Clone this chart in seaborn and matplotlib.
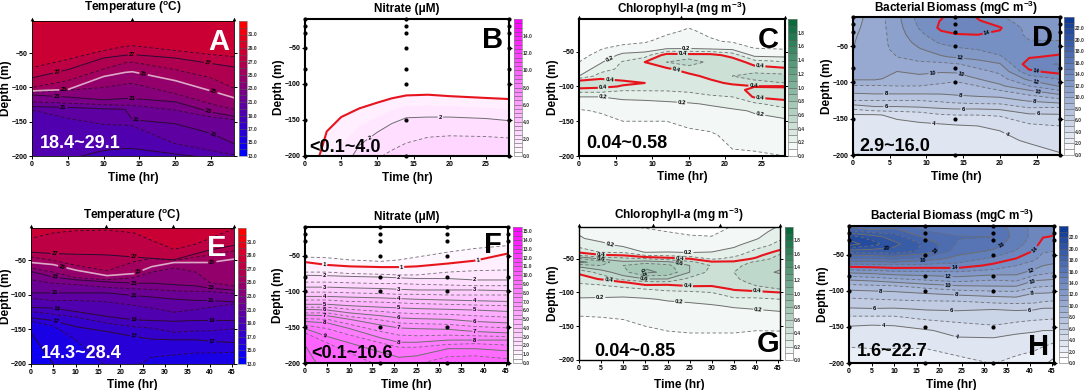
import numpy as np
import pandas as pd
import matplotlib
matplotlib.use('Agg')
import matplotlib.pyplot as plt
import seaborn as sns

W, H = 1084, 390

# ---------- temperature, cruise 1: depth of each isotherm at each time
a_times = [0, 5, 10, 13, 14, 20, 25, 28.2]
a_levels = [29.1, 28, 27, 26, 25, 24, 23, 22, 21, 20, 19, 18.4]
a_depths = [
    [0, 0, 0, 0, 0, 0, 0, 0],
    [-71, -59, -46, -40, -39, -46, -52, -55],
    [-86, -74, -57, -53, -52, -57, -65, -70],
    [-100, -90, -73, -64, -63, -74, -86, -101],
    [-105, -103, -84, -78, -77, -90, -105, -115],
    [-107, -104, -100, -95, -94, -109, -124, -132],
    [-111, -114, -118, -116, -116, -121, -136, -142],
    [-121, -123, -125, -126, -126, -133, -143, -147],
    [-128, -129, -131, -132, -147, -153, -167, -182],
    [-133, -145, -154, -155, -156, -182, -192, -198],
    [-230, -205, -192, -189, -189, -197, -203, -206],
    [-260, -260, -260, -260, -260, -260, -260, -260],
]
a_labels = [(3.5, -76), (14, -52), (24.6, -66), (4.4, -101), (15.6, -78), (25.3, -108),
            (3.5, -113), (14, -116), (24.6, -138), (4.4, -129), (14.5, -148), (25.2, -171)]

# ---------- temperature, cruise 2
e_times = [0, 5, 10, 17, 23, 27, 32, 37, 40, 45.4]
e_levels = [28.4, 28, 27, 26, 25, 24, 23, 22, 21, 20, 19, 18, 17, 16, 15, 14.3]
e_depths = [
    [0, 0, 0, 0, 0, 0, 0, 0, 0, 0],
    [-18, -10, -7, -6, -10, -21, -34, -26, -18, -4],
    [-38, -40, -41, -42, -45, -47, -49, -40, -35, -28],
    [-45, -50, -57, -65, -52, -47, -50, -45, -42, -36],
    [-53, -56, -64, -72, -69, -59, -53, -53, -53, -48],
    [-61, -67, -75, -78, -75, -67, -61, -67, -82, -87],
    [-66, -74, -78, -81, -83, -83, -85, -87, -90, -93],
    [-78, -83, -85, -89, -91, -92, -94, -95, -95, -98],
    [-97, -97, -97, -97, -101, -103, -106, -108, -108, -110],
    [-105, -108, -108, -110, -115, -119, -125, -121, -118, -113],
    [-118, -119, -124, -131, -136, -137, -138, -137, -137, -137],
    [-124, -128, -132, -141, -146, -148, -154, -152, -152, -149],
    [-133, -137, -146, -153, -160, -164, -165, -165, -167, -169],
    [-138, -145, -165, -205, -205, -190, -187, -184, -184, -183],
    [-155, -200, -230, -240, -240, -240, -240, -240, -240, -240],
    [-260, -260, -260, -260, -260, -260, -260, -260, -260, -260],
]
e_labels = [(5.3, -39), (23, -44), (7, -59), (24, -65), (40.5, -52), (5.5, -72), (23, -83), (40.3, -89),
            (5.3, -97), (23, -101), (40.3, -106), (5.8, -120), (23, -137), (40.5, -137),
            (5.7, -137), (23, -160), (40.5, -167)]

# ---------- nitrate
b_times = [0, 2.3, 3, 5, 7.5, 10, 12, 14, 17, 20, 25, 28.2]
b_levels = [0, 0.4, 1, 2, 2.5, 4]
b_depths = [
    [0, 0, 0, 0, 0, 0, 0, 0, 0, 0, 0, 0],
    [-259, -189, -165, -145, -133, -125, -119, -115, -114, -116, -118.5, -120],
    [-260, -190, -166, -146, -134, -126, -120, -116, -115, -117, -119.5, -121],
    [-300, -280, -260, -225, -185, -167, -155, -147, -146, -146, -148, -151],
    [-350, -330, -320, -290, -255, -204, -192, -182, -174, -172, -173, -175],
    [-420, -420, -420, -420, -420, -420, -420, -420, -420, -420, -420, -420],
]
b_labels = [(18.7, -146), (8.9, -173)]

f_times = [0, 5, 10, 17, 21, 25, 32, 38, 45.4]
f_levels = [0, 0.5, 1, 1.5, 2, 2.5, 3, 3.5, 4, 4.5, 5, 5.5, 6, 6.5, 7, 7.5, 8, 8.5, 9, 9.5, 10, 10.5, 11]
f_depths = [
    [0, 0, 0, 0, 0, 0, 0, 0, 0],
    [-52, -53, -56, -58, -56, -52, -45, -40, -36],
    [-59, -63, -65, -66, -66, -65, -61, -57, -47],
    [-73, -73, -75, -76, -77, -77, -73, -71, -70],
    [-77.5, -78, -79, -80, -81, -82, -82, -84, -84],
    [-87, -87, -88, -89, -89, -90, -91, -92, -92],
    [-94, -94, -95, -96, -97, -98, -98, -98, -99],
    [-101, -101, -102, -103, -104, -104, -105, -105, -105],
    [-107, -107, -108, -109, -110, -111, -112, -113, -114],
    [-112, -112, -114, -115, -116, -117, -118, -119, -120],
    [-118, -118, -120, -122, -123, -124, -125, -126, -128],
    [-122, -122, -125, -128, -130, -131, -132, -134, -136],
    [-125, -126, -130, -134, -137, -138, -139, -142, -144],
    [-130, -130, -135, -140, -144, -145, -146, -149, -151],
    [-133, -134, -139, -147, -151, -152, -153, -156, -158],
    [-138, -139, -146, -156, -161, -162, -161, -162, -163],
    [-142, -144, -152, -165, -171, -171, -168, -168, -168],
    [-147, -152, -161, -172, -178, -178, -174, -173, -175],
    [-152, -163, -172, -185, -192, -190, -180, -180, -183],
    [-158, -172, -186, -205, -215, -202, -191, -190, -194],
    [-175, -225, -240, -240, -240, -215, -202, -203, -215],
    [-190, -260, -260, -260, -260, -260, -250, -250, -260],
    [-300, -300, -300, -300, -300, -300, -300, -300, -300],
]
f_labels = [(4.4, -62), (21.6, -66), (38.7, -56), (4.4, -78), (21, -81), (38, -84), (4.4, -94), (21, -97), (38, -98),
            (4.4, -107), (21, -110), (38, -113), (4.4, -118), (21, -123), (38, -127), (4.4, -126), (21, -137), (38, -142),
            (4.4, -134), (21, -151), (38, -156), (4.4, -145), (21, -171), (38, -168), (4.4, -162)]

# ---------- chlorophyll, values on a depth x time grid (one list per time)
c_times = [0, 3, 6, 9, 12, 15, 18, 21, 24, 28.2]
c_depths = [0, -20, -35, -45, -55, -65, -75, -85, -95, -100, -105, -115, -125, -135, -150, -170, -190, -205]
c_values = [
    [.05, .05, .06, .07, .08, .10, .14, .20, .50, .46, .35, .20, .14, .09, .07, .05, .04, .04],
    [.05, .06, .08, .095, .12, .19, .25, .35, .47, .43, .35, .20, .15, .11, .07, .05, .04, .04],
    [.05, .06, .08, .12, .23, .31, .33, .36, .42, .39, .31, .22, .17, .13, .10, .07, .05, .04],
    [.05, .07, .09, .14, .25, .40, .37, .37, .40, .36, .31, .23, .17, .14, .10, .07, .05, .04],
    [.05, .08, .13, .18, .45, .50, .38, .35, .34, .33, .31, .24, .18, .15, .10, .07, .05, .05],
    [.06, .11, .15, .19, .44, .55, .45, .37, .34, .33, .32, .26, .19, .15, .11, .09, .06, .05],
    [.05, .08, .11, .17, .44, .48, .47, .43, .37, .35, .33, .29, .21, .17, .13, .09, .07, .05],
    [.05, .07, .09, .16, .36, .47, .50, .50, .42, .37, .36, .30, .25, .18, .14, .12, .10, .07],
    [.04, .06, .08, .10, .17, .35, .45, .54, .47, .395, .43, .41, .28, .21, .17, .14, .105, .08],
    [.04, .05, .07, .09, .16, .31, .42, .53, .50, .39, .43, .44, .35, .26, .18, .15, .12, .09],
]
c_labels = [(4.1, -58), (14.7, -48), (3.3, -116), (14.1, -122), (24.8, -141), (4.2, -88), (3.3, -103),
            (14.2, -54), (13.3, -78), (24.8, -72), (23.9, -99), (24.8, -117)]

g_times = [0, 5, 10, 15, 20, 25, 30, 35, 40, 45.4]
g_depths = [0, -10, -20, -30, -40, -45, -50, -55, -60, -70, -80, -85, -90, -95, -100, -110, -120, -130, -140, -160, -205]
g_values = [
    [.18, .19, .21, .26, .38, .50, .72, .83, .65, .42, .35, .31, .28, .26, .24, .19, .15, .11, .09, .06, .04],
    [.12, .15, .17, .23, .29, .42, .58, .75, .70, .55, .41, .33, .29, .26, .23, .19, .15, .12, .09, .07, .05],
    [.10, .12, .15, .18, .28, .40, .53, .62, .70, .66, .54, .39, .33, .27, .24, .18, .15, .13, .10, .07, .05],
    [.09, .11, .13, .16, .19, .30, .50, .65, .78, .82, .60, .47, .38, .30, .26, .19, .16, .14, .11, .09, .06],
    [.08, .10, .12, .15, .20, .28, .45, .62, .73, .78, .60, .48, .37, .32, .28, .21, .17, .15, .13, .095, .06],
    [.07, .09, .11, .14, .19, .25, .40, .53, .60, .60, .47, .43, .41, .34, .28, .22, .18, .15, .13, .10, .06],
    [.06, .08, .11, .14, .20, .24, .28, .42, .49, .46, .44, .42, .405, .35, .30, .24, .19, .16, .14, .10, .06],
    [.10, .13, .16, .18, .24, .28, .33, .42, .47, .50, .48, .46, .43, .41, .37, .28, .21, .17, .14, .10, .07],
    [.12, .15, .19, .26, .33, .36, .42, .52, .55, .57, .56, .53, .50, .43, .38, .28, .22, .18, .15, .09, .05],
    [.20, .25, .29, .33, .43, .52, .55, .57, .58, .61, .56, .54, .52, .50, .40, .30, .24, .19, .16, .09, .05],
]
g_labels = [(6.9, -30), (24.7, -40), (4.8, -107), (22.7, -111), (40.5, -125), (5, -43), (22.8, -48), (6.7, -83),
            (24.6, -89), (40.3, -98), (5, -50), (22.7, -55), (14.8, -79), (13, -68)]

# ---------- bacterial biomass
d_times = [0, 3, 6, 9, 12, 14, 17, 20, 24, 28.2]
d_depths = [-5, -15, -25, -35, -45, -55, -65, -75, -85, -95, -105, -115, -125, -135, -145, -160, -180, -205]
d_values = [
    [9.6, 9.7, 9.8, 9.9, 9.95, 10, 10.3, 10.5, 10.4, 10.2, 8.9, 8.0, 7.0, 5.3, 3.9, 3.6, 3.2, 2.9],
    [10.4, 10.4, 10.4, 10.4, 10.5, 10.6, 10.8, 10.8, 10.5, 10.2, 8.9, 8.1, 7.0, 5.8, 3.9, 3.6, 3.2, 3.0],
    [11.7, 11.7, 11.6, 11.5, 11.4, 11.2, 11.0, 10.7, 10.0, 9.6, 9.0, 8.1, 7.0, 5.8, 4.2, 3.7, 3.3, 3.0],
    [13.4, 13.3, 13.05, 12.7, 12.3, 11.9, 11.3, 10.8, 10.2, 9.7, 9.0, 8.1, 7.0, 5.9, 4.4, 3.8, 3.4, 3.0],
    [13.6, 14.05, 14.2, 13.7, 13.15, 12.4, 11.9, 10.7, 10.1, 9.4, 8.8, 8.1, 7.2, 6.1, 4.9, 3.8, 3.4, 3.0],
    [14.8, 14.7, 14.5, 13.9, 13.4, 12.8, 12.1, 10.9, 10.2, 9.2, 8.7, 8.2, 7.4, 6.2, 5.0, 3.9, 3.4, 3.0],
    [13.7, 14.1, 14.9, 13.95, 13.5, 13.0, 12.4, 11.4, 10.7, 10.0, 9.0, 8.3, 7.6, 6.2, 5.0, 4.0, 3.4, 3.0],
    [12.9, 13.3, 14.1, 13.8, 13.5, 13.3, 12.9, 11.9, 11.2, 10.6, 9.8, 8.5, 7.6, 6.3, 5.1, 4.2, 3.6, 3.0],
    [12.4, 12.5, 12.6, 12.8, 13.1, 13.4, 13.9, 14.6, 13.8, 12.3, 11.0, 9.3, 8.1, 7.0, 5.8, 4.8, 4.2, 3.0],
    [12.2, 12.3, 12.5, 12.7, 13.1, 13.6, 14.2, 15.1, 14.4, 13.1, 12.1, 10.3, 8.6, 6.9, 5.9, 5.0, 4.4, 3.8],
]
d_labels = [(18.3, -34), (25, -83), (14.6, -68), (25, -97), (10.8, -79), (14.6, -93), (25.2, -111), (4.5, -116),
            (14.7, -119), (24.7, -126), (4.5, -131), (15, -136), (25.2, -143), (11, -153), (20.8, -174)]

h_times = [0, 5, 10, 17, 24, 32, 37, 41, 43, 45.4]
h_depths = [-5, -15, -25, -35, -45, -55, -65, -75, -85, -95, -105, -115, -125, -135, -145, -155, -170, -190, -205]
h_values = [
    [17.0, 18.5, 21.5, 22.5, 19.5, 17.0, 14.4, 12.0, 10.0, 8.4, 7.4, 6.6, 5.9, 5.0, 4.2, 3.7, 3.2, 2.7, 2.5],
    [16.8, 18.0, 20.5, 21.5, 19.5, 17.0, 14.5, 12.2, 10.2, 8.5, 7.5, 6.7, 5.95, 5.0, 4.1, 3.7, 3.3, 2.7, 2.4],
    [17.2, 18.2, 19.5, 20.3, 19.6, 17.3, 14.7, 12.5, 10.6, 8.6, 7.6, 6.8, 5.9, 5.0, 4.1, 3.8, 3.3, 2.7, 2.4],
    [16.5, 16.8, 17.8, 18.8, 18.7, 16.6, 14.6, 12.6, 11.0, 9.2, 7.8, 6.9, 6.1, 5.4, 4.6, 3.9, 3.3, 2.7, 2.4],
    [16.2, 16.6, 17.05, 16.9, 16.4, 15.7, 14.6, 12.7, 11.4, 9.6, 8.1, 6.9, 6.1, 5.7, 4.9, 4.3, 3.8, 3.0, 2.7],
    [16.3, 16.7, 17.0, 16.5, 15.85, 14.8, 13.7, 12.4, 11.0, 9.8, 8.3, 7.2, 6.05, 5.4, 5.2, 4.4, 3.8, 3.3, 2.9],
    [15.5, 15.6, 15.6, 15.4, 14.9, 14.0, 13.0, 12.3, 11.2, 9.8, 8.4, 7.3, 6.15, 5.5, 4.9, 4.2, 3.6, 3.0, 2.7],
    [14.7, 14.7, 14.7, 14.5, 13.9, 13.2, 12.5, 11.5, 10.1, 9.0, 7.8, 7.2, 6.1, 5.4, 4.7, 4.1, 3.4, 2.8, 2.3],
    [14.3, 14.2, 14.05, 13.5, 13.1, 12.6, 12.0, 11.2, 10.0, 8.9, 7.8, 7.0, 5.9, 5.3, 4.7, 4.0, 3.3, 2.5, 2.0],
    [14.3, 14.2, 13.95, 13.4, 13.0, 12.5, 11.8, 11.0, 9.9, 8.8, 7.7, 6.9, 5.9, 5.25, 4.6, 4.0, 3.1, 2.1, 1.6],
]
h_labels = [(8.5, -41), (19, -43), (16.4, -59), (33.8, -37), (23.4, -68), (40.6, -40), (22, -81), (40.3, -69),
            (22, -92), (40.5, -86), (7, -101), (23.8, -106), (40.5, -102), (5.7, -124), (22.7, -126), (40, -125),
            (7.6, -150), (23.8, -163)]

# sampling casts
casts_short = [0, 13.9, 28.2]
casts_long = [0, 16.8, 31.8, 45.4]
cast_depths = [-10, -20, -30, -50, -80, -100, -150, -200]

title_temp = 'Temperature ($^{o}$C)'
title_no3 = 'Nitrate (\u03bcM)'
title_chl = 'Chlorophyll-$\\mathit{a}$ (mg m$^{-3}$)'
title_bact = 'Bacterial Biomass (mgC m$^{-3}$)'

sns.set_theme(style='ticks')
plt.rcParams['font.family'] = ['Liberation Sans', 'DejaVu Sans']
plt.rcParams['font.weight'] = 'bold'
plt.rcParams['axes.labelweight'] = 'bold'
plt.rcParams['axes.titleweight'] = 'bold'
plt.rcParams['mathtext.fontset'] = 'custom'
plt.rcParams['mathtext.default'] = 'regular'
plt.rcParams['mathtext.it'] = 'Liberation Sans:italic:bold'
plt.rcParams['mathtext.rm'] = 'Liberation Sans:bold'

fig = plt.figure(figsize=(W / 100, H / 100), dpi=100, facecolor='white')

temp_colors = sns.blend_palette(['#0000ff', '#ff0000'], n_colors=20)
no3_colors = sns.blend_palette(['#ffffff', '#ff00ff'], n_colors=32)
chl_colors = sns.blend_palette(['#ffffff', '#0a6a3c'], n_colors=20)
bact_colors = sns.blend_palette(['#ffffff', '#0f3a94'], n_colors=24)


def pixel_axes(l, t, r, b):
    return fig.add_axes([l / W, 1 - b / H, (r - l) / W, (b - t) / H])


def draw_panel(box, cbox, times, depths, values, fill_levels, colors, solid, dashed, special, labels,
               line_color, xticks, top, xmax, cticks, frame, title, title_xy, xlabel_xy, ylabel_x,
               casts, cast_grid, letter, letter_xy, letter_color, rng, rng_xy, rng_color):
    ax = pixel_axes(*box)
    cax = pixel_axes(*cbox)
    depths = np.array(depths, dtype=float)
    values = np.array(values, dtype=float)
    times = np.array(times, dtype=float)
    if depths.ndim == 1:
        # values has one list per time
        X, Y = np.meshgrid(times, depths)
        Z = values.T
    else:
        # one row per isoline
        X = np.tile(times, (depths.shape[0], 1))
        Y = depths
        Z = np.tile(values[:, None], (1, len(times)))

    cf = ax.contourf(X, Y, Z, levels=fill_levels, colors=colors[:len(fill_levels) - 1])
    ax.contour(X, Y, Z, levels=dashed, colors=line_color, linewidths=0.6, linestyles=[(0, (4, 3))])
    line_cols = [special[v][0] if v in special else line_color for v in solid]
    line_w = [special[v][1] if v in special else 0.7 for v in solid]
    cs = ax.contour(X, Y, Z, levels=solid, colors=line_cols, linewidths=line_w, linestyles='solid')
    txt = ax.clabel(cs, manual=labels, fmt='%g', fontsize=4.2, inline=True, inline_spacing=1)
    for tx in txt:
        tx.set_color('black')

    ax.set_xlim(0, xmax)
    ax.set_ylim(-200, top)
    ax.set_xticks(xticks)
    ax.set_yticks([-50, -100, -150, -200])
    ax.tick_params(axis='both', labelsize=5, length=2, width=0.7, pad=1.5, right=True, color='black', labelcolor='black')
    for s in ax.spines.values():
        s.set_linewidth(frame)
        s.set_color('black')
        s.set_visible(True)

    w = box[2] - box[0]
    h = box[3] - box[1]
    # the text sits a little high on its box, so push it down 2 px
    ax.set_title(title, x=(title_xy[0] - box[0]) / w, y=(box[3] - title_xy[1] - 2) / h, va='center', ha='center',
                 fontsize=8.5, color='black', pad=0)
    ax.set_xlabel('Time (hr)', fontsize=8.6, color='black', va='center')
    ax.xaxis.set_label_coords((xlabel_xy[0] - box[0]) / w, (box[3] - xlabel_xy[1] - 2) / h)
    ax.set_ylabel('Depth (m)', fontsize=8.6, color='black', va='center')
    ax.yaxis.set_label_coords((ylabel_x - box[0]) / w, 0.5)

    if cast_grid:
        cast_df = pd.DataFrame([(c, d) for c in casts for d in cast_depths], columns=['time', 'depth'])
        sns.scatterplot(data=cast_df, x='time', y='depth', ax=ax, color='black', s=9, linewidth=0,
                        clip_on=False, zorder=6, legend=False)
    else:
        cast_df = pd.DataFrame({'time': casts, 'depth': [top + 2.5] * len(casts)})
        sns.scatterplot(data=cast_df, x='time', y='depth', ax=ax, color='black', marker='^', s=7, linewidth=0,
                        clip_on=False, zorder=6, legend=False)
    ax.set_xlabel('Time (hr)')
    ax.set_ylabel('Depth (m)')

    ax.text((letter_xy[0] - box[0]) / w, (box[3] - letter_xy[1]) / h, letter, transform=ax.transAxes, ha='center',
            va='center', fontsize=21, color=letter_color, zorder=8)
    ax.text((rng_xy[0] - box[0]) / w, (box[3] - rng_xy[1]) / h, rng, transform=ax.transAxes, ha='center',
            va='center', fontsize=13, color=rng_color, zorder=8)

    cb = fig.colorbar(cf, cax=cax, ticks=cticks, format='%.1f', drawedges=True)
    cb.dividers.set_color('#555555')
    cb.dividers.set_linewidth(0.4)
    cb.outline.set_edgecolor('#888888')
    cb.outline.set_linewidth(0.5)
    cax.tick_params(labelsize=3.6, length=0, pad=0.8, labelcolor='#333333')
    return ax


red = '#e8141c'
grey = '#6f6f6f'
dark = '#2a0a35'
pale = '#dba9c6'

draw_panel((32, 21, 234, 156), (239, 21, 247, 156), a_times, a_depths, a_levels, np.arange(13, 34), temp_colors,
           [19, 21, 23, 25, 27], [20, 22, 24, 26, 28], {25: (pale, 1.2)}, a_labels, dark,
           range(0, 30, 5), -3, 28.2, range(13, 33, 2), 0.6, title_temp, (133, 6), (133, 176), 6,
           casts_short, False, 'A', (219, 42), 'white', '18.4~29.1', (80, 144), 'white')
draw_panel((305, 19, 509, 156), (514, 19, 522, 156), b_times, b_depths, b_levels, np.arange(0, 16.5, 0.5), no3_colors,
           [1, 2], [2.5], {1: (red, 1.5)}, b_labels, grey,
           range(0, 30, 5), -10, 28.2, range(0, 16, 2), 1.5, title_no3, (407, 7), (407, 176), 279,
           casts_short, True, 'B', (493, 40), 'black', '<0.1~4.0', (345, 147), 'black')
draw_panel((579, 19, 785, 156), (788, 19, 797, 156), c_times, c_depths, c_values, np.arange(0, 2.05, 0.1), chl_colors,
           [0.2, 0.4], [0.1, 0.3, 0.5], {0.4: (red, 1.5)}, c_labels, grey,
           range(0, 30, 5), -3, 28.2, np.arange(0, 1.9, 0.2), 1.5, title_chl, (682, 7), (682, 175), 553,
           casts_short, False, 'C', (768, 40), 'black', '0.04~0.58', (627, 144), 'black')
draw_panel((853, 17, 1060, 155), (1064, 17, 1074, 155), d_times, d_depths, d_values, np.arange(0, 25), bact_colors,
           [4, 6, 8, 10, 12, 14], [3, 5, 7, 9, 11, 13, 15], {14: (red, 1.5)}, d_labels, grey,
           range(0, 30, 5), -10, 28.2, range(0, 24, 2), 1.5, title_bact, (956, 6), (956, 175), 827,
           casts_short, True, 'D', (1043, 38), 'black', '2.9~16.0', (895, 147), 'black')
draw_panel((31, 228, 234, 364), (238, 228, 246, 364), e_times, e_depths, e_levels, np.arange(13, 34), temp_colors,
           [15, 17, 19, 21, 23, 25, 27], [16, 18, 20, 22, 24, 26, 28], {25: (pale, 1.2)}, e_labels, dark,
           range(0, 50, 5), -3, 45.4, range(13, 33, 2), 0.6, title_temp, (132, 214), (132, 383), 6,
           casts_long, False, 'E', (217, 248), 'white', '14.3~28.4', (81, 354), 'white')
draw_panel((305, 227, 508, 363), (513, 227, 522, 363), f_times, f_depths, f_levels, np.arange(0, 15.6, 0.5), no3_colors,
           [1, 2, 3, 4, 5, 6, 7, 8, 9, 10], [0.5, 1.5, 2.5, 3.5, 4.5, 5.5, 6.5, 7.5, 8.5, 9.5], {1: (red, 1.5)}, f_labels, grey,
           range(0, 50, 5), -10, 45.4, range(0, 16), 1.5, title_no3, (407, 215), (407, 383), 278,
           casts_long, True, 'F', (493, 245), 'black', '<0.1~10.6', (352, 353), 'black')
draw_panel((579, 227, 780, 360), (785, 227, 793, 360), g_times, g_depths, g_values, np.arange(0, 2.05, 0.1), chl_colors,
           [0.2, 0.4, 0.6, 0.8], [0.1, 0.3, 0.5, 0.7], {0.4: (red, 1.5)}, g_labels, grey,
           range(0, 50, 5), -3, 45.4, np.arange(0, 1.9, 0.2), 1.0, title_chl, (679, 213), (679, 383), 553,
           casts_long, False, 'G', (768, 344), 'black', '0.04~0.85', (635, 351), 'black')
draw_panel((849, 226, 1054, 363), (1059, 226, 1068, 363), h_times, h_depths, h_values, np.arange(0, 25), bact_colors,
           [2, 4, 6, 8, 10, 12, 14, 16, 18, 20, 22], [3, 5, 7, 9, 11, 13, 15, 17, 19, 21], {14: (red, 1.5)}, h_labels, grey,
           range(0, 50, 5), -10, 45.4, range(0, 24, 2), 1.5, title_bact, (952, 214), (952, 383), 823,
           casts_long, True, 'H', (1039, 347), 'black', '1.6~22.7', (892, 352), 'black')

fig.savefig('out.png', dpi=100)
